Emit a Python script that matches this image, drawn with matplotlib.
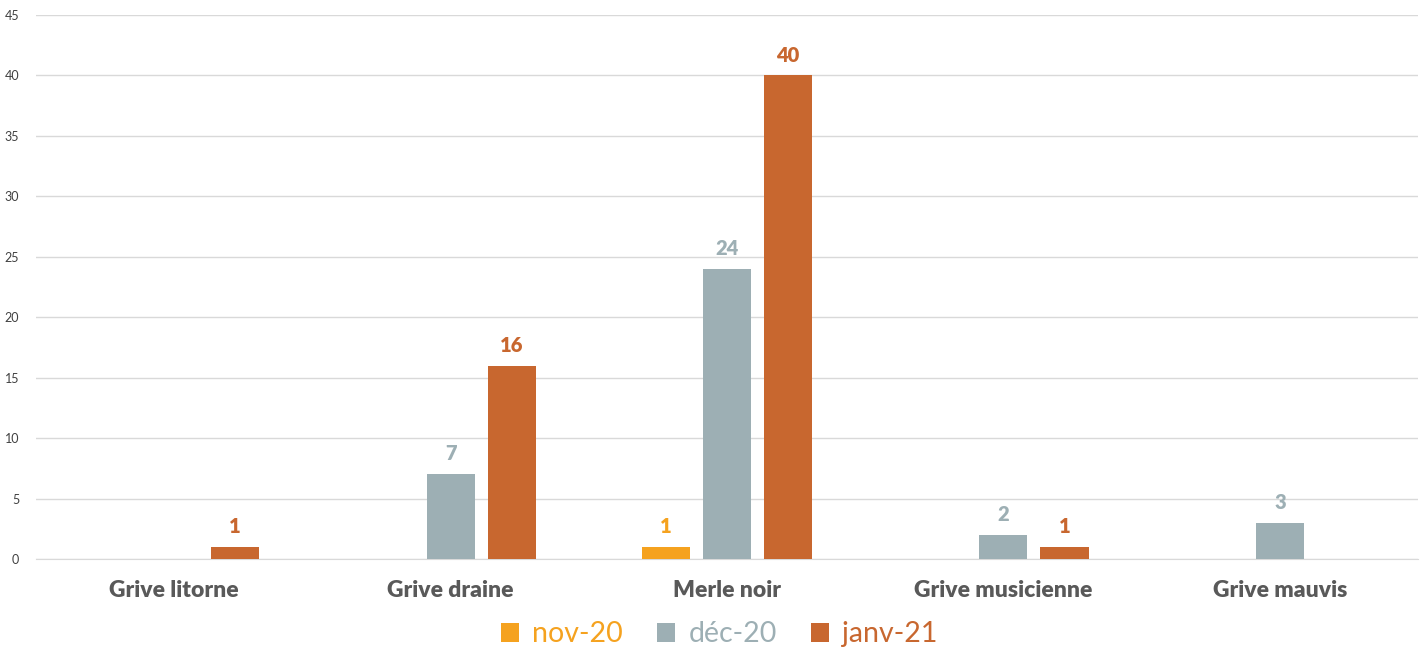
import matplotlib

matplotlib.use("Agg")
import matplotlib.pyplot as plt
import numpy as np

plt.rcParams["font.family"] = ["Lato", "DejaVu Sans"]

categories = ["Grive litorne", "Grive draine", "Merle noir", "Grive musicienne", "Grive mauvis"]
series_names = ["nov-20", "déc-20", "janv-21"]
nov20 = [0, 0, 1, 0, 0]
dec20 = [0, 7, 24, 2, 3]
janv21 = [1, 16, 40, 1, 0]
colors = ["#F5A21F", "#9DAFB4", "#C8672F"]

fig = plt.figure(figsize=(14.24, 6.55), dpi=100)
ax = fig.add_axes([0.0253, 0.1466, 0.9705, 0.8305])

x = np.arange(len(categories))
width = 0.174
step = 0.221
for i, (vals, col, name) in enumerate(zip([nov20, dec20, janv21], colors, series_names)):
    pos = x + (i - 1) * step
    v = np.array(vals, dtype=float)
    mask = v > 0
    ax.bar(pos[mask], v[mask], width=width, color=col, label=name, zorder=3)
    for p, val in zip(pos[mask], v[mask]):
        ax.text(p, val + 0.9, f"{int(val)}", ha="center", va="bottom",
                color=col, fontsize=14.5, fontweight="heavy")

ax.set_xlim(-0.5, len(categories) - 0.5)
ax.set_ylim(0, 45)
ax.set_yticks(range(0, 46, 5))
ax.yaxis.grid(True, color="#D9D9D9", linewidth=1, zorder=0)
ax.set_axisbelow(True)
for s in ["top", "right", "left"]:
    ax.spines[s].set_visible(False)
ax.spines["bottom"].set_color("#D9D9D9")
ax.tick_params(axis="both", length=0)
ax.tick_params(axis="y", labelsize=9, labelcolor="#404040", pad=12)
ax.set_xticks(x)
ax.set_xticklabels(categories, fontsize=16.5, fontweight="heavy", color="#595959")
ax.tick_params(axis="x", pad=15)

leg = fig.legend(loc="center", bbox_to_anchor=(0.505, 0.032), ncol=3, frameon=False,
                 fontsize=20.5, handlelength=0.65, handleheight=0.65, handletextpad=0.45,
                 columnspacing=1.2)
for t, c in zip(leg.get_texts(), colors):
    t.set_color(c)

fig.savefig("out.png", dpi=100)
